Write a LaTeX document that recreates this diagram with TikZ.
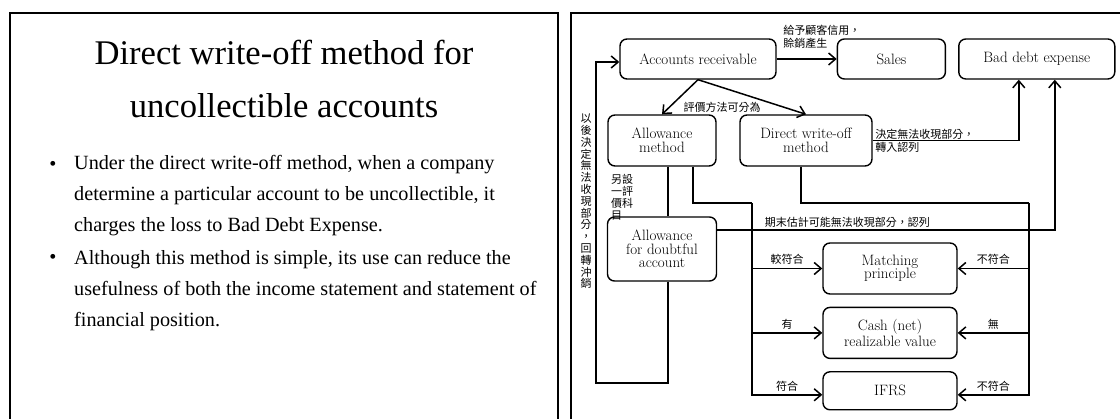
\documentclass[tikz,border=0pt]{standalone}
\usepackage{fontspec}
\newfontfamily\timesfont{Liberation Serif}
\newfontfamily\cjkfont{Noto Sans CJK TC}
\usetikzlibrary{arrows.meta,positioning,calc}
\newcommand\boxfont{\fontsize{15}{13.5}\selectfont}
\newcommand\lblfont{\cjkfont\fontsize{11}{13}\selectfont}
\tikzset{
  panel/.style={line width=2.4pt},
  acct/.style={draw,rounded corners=7pt,line width=1.4pt,align=center,
    font=\boxfont,inner sep=1pt},
  link/.style={line width=1.5pt},
  flowarrow/.style={link,-{Straight Barb[length=7pt,width=12pt]}},
  lbl/.style={font=\lblfont,inner sep=0pt},
  slidetext/.style={font=\timesfont\fontsize{20.2}{31}\selectfont,align=left,inner sep=0pt}
}

\begin{document}
\begin{tikzpicture}[x=1pt,y=-1pt,node distance=12pt]
\useasboundingbox (0,0) rectangle (1120,419);
% slide frames
\draw[panel] (10,430) -- (10,13) -- (558,13) -- (558,430);
\draw[panel] (571,430) -- (571,13) -- (1130,13);

% left slide
\node[font=\timesfont\fontsize{34.6}{53}\selectfont,align=center,inner sep=0pt,anchor=base] (title) at (284,118)
  {Direct write-off method for\\uncollectible accounts};
\node[slidetext,anchor=base west] (b1) at (74,232)
  {Under the direct write-off method, when a company\\determine a particular account to be uncollectible, it\\charges the loss to Bad Debt Expense.};
\node[slidetext,anchor=base west] (b2) at (74,327)
  {Although this method is simple, its use can reduce the\\usefulness of both the income statement and statement of\\financial position.};
\node[slidetext,anchor=base] (d1) at (53,171) {•};
\node[slidetext,anchor=base] (d2) at (53,264) {•};

% right slide: accounts
\node[acct,minimum width=156pt,minimum height=40pt] (ar) at (698,59) {Accounts receivable};
\node[acct,minimum width=108pt,minimum height=40pt,right=60pt of ar] (sales) {Sales};
\node[acct,minimum width=156pt,minimum height=40pt,right=of sales] (bde) {Bad debt expense};
\node[acct,minimum width=108pt,minimum height=51pt] (am) at (662,140.5) {Allowance\\method};
\node[acct,minimum width=132pt,minimum height=51pt] (dwo) at (806,140.5) {Direct write-off\\method};
\node[acct,minimum width=109pt,minimum height=64pt] (ada) at (662,249) {Allowance\\for doubtful\\account};
\node[acct,minimum width=134pt,minimum height=51pt] (mp) at (890,268.5) {Matching\\principle};
\node[acct,minimum width=134pt,minimum height=51pt,below=of mp] (crv) {Cash (net)\\realizable value};
\node[acct,minimum width=134pt,minimum height=38pt,below=of crv] (ifrs) {IFRS};

% credit sales
\draw[flowarrow] (ar) -- node[lbl,pos=0,anchor=south west,align=left,xshift=6pt,yshift=10pt]
  {給予顧客信用，\\賒銷產生} (sales);

% two methods
\draw[flowarrow] (ar.south) -- (am.north);
\draw[flowarrow] (ar.south) -- (dwo.north);
\node[lbl] (split) at (722,107) {評價方法可分為};

% direct write-off
\draw[flowarrow] (dwo.east) -| node[lbl,pos=0,anchor=west,align=left,xshift=2pt]
  {決定無法收現部分，\\轉入認列} ($(bde.south)+(-18,0)$);

% year-end estimate
\draw[flowarrow] ($(ada.east)+(0,-19)$) -| node[lbl,pos=0,anchor=south west,xshift=47pt,yshift=2pt]
  {期末估計可能無法收現部分，認列} ($(bde.south)+(18,0)$);

% allowance account
\draw[link] ($(am.south)+(6,0)$) -- ($(ada.north)+(6,0)$);
\node[lbl,align=left,anchor=north west,font=\cjkfont\fontsize{11}{12}\selectfont] (newacct) at (611,174)
  {另設\\一評\\價科\\目};

% written off later
\coordinate (loopbl) at (596,383);
\draw[flowarrow] ($(ada.south)+(6,0)$) |- (loopbl) |- ($(ar.west)+(0,3)$);
\node[lbl,align=center,font=\cjkfont\fontsize{11}{11.8}\selectfont] (reverse) at (586,201.5)
  {以\\後\\決\\定\\無\\法\\收\\現\\部\\分\\，\\回\\轉\\沖\\銷};

% allowance method vs principles
\coordinate (busl) at (752,203);
\draw[link] ($(am.south)+(31,0)$) |- (busl);
\draw[flowarrow] (busl) |- node[lbl,pos=0.75,above=3pt] {符合} ($(ifrs.west)+(0,4)$);
\draw[flowarrow] (busl |- mp.west) -- node[lbl,above=3pt] {較符合} (mp.west);
\draw[flowarrow] (busl |- crv.west) -- node[lbl,above=3pt] {有} (crv.west);

% direct method vs principles
\coordinate (busr) at (1029,203);
\draw[link] ($(dwo.south)+(-5,0)$) |- (busr);
\draw[flowarrow] (busr) |- node[lbl,pos=0.75,above=3pt] {不符合} ($(ifrs.east)+(0,4)$);
\draw[flowarrow] (busr |- mp.east) -- node[lbl,above=3pt] {不符合} (mp.east);
\draw[flowarrow] (busr |- crv.east) -- node[lbl,above=3pt] {無} (crv.east);
\end{tikzpicture}
\end{document}
